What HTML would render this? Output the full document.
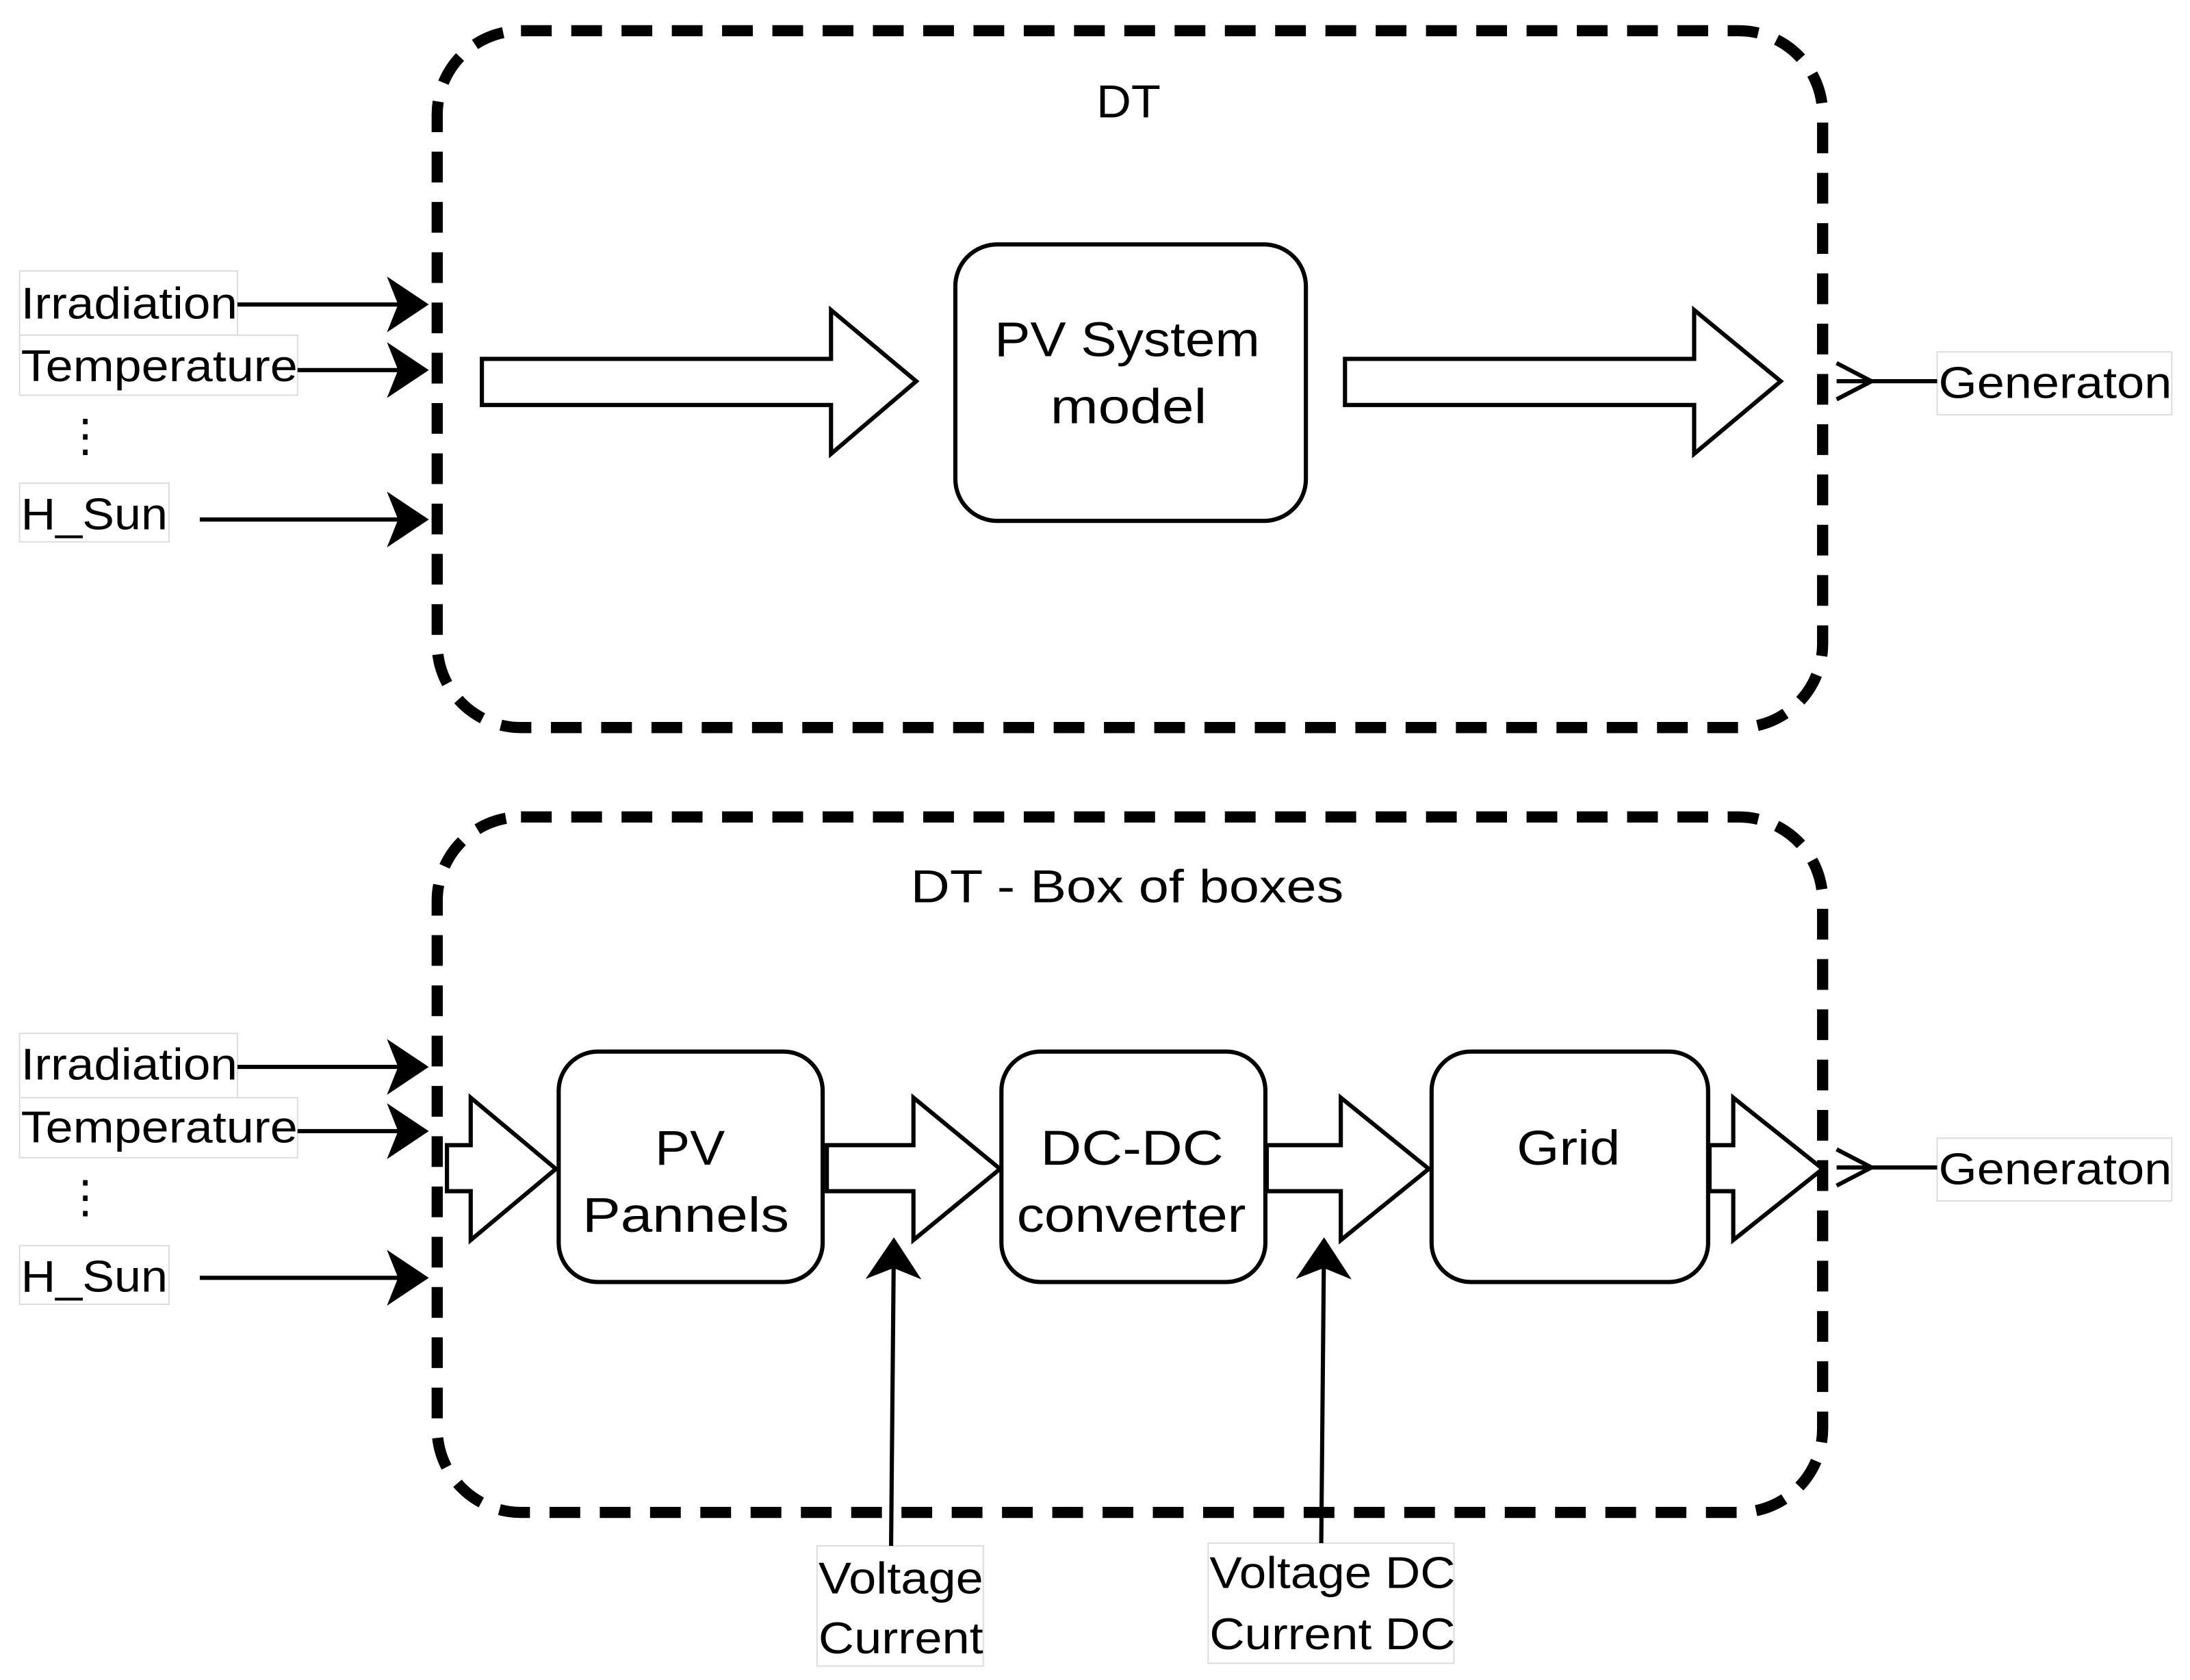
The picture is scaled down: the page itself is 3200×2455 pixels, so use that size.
<!DOCTYPE html>
<html><head><meta charset="utf-8"><style>html,body{margin:0;padding:0;background:#fff}svg{display:block}</style></head>
<body>
<svg width="3200" height="2455" viewBox="0 0 1568 1203" xmlns="http://www.w3.org/2000/svg" font-family="Liberation Sans, Arial, sans-serif">
<defs>
<marker id="ah" viewBox="0 0 30 40" refX="28" refY="20" markerWidth="30" markerHeight="40" markerUnits="userSpaceOnUse" orient="auto">
<path d="M0,0 L30,20 L0,40 L8,20 Z" fill="#000"/></marker>
</defs>
<rect width="1568" height="1203" fill="#fff"/>
<rect x="313" y="22" width="992" height="499" rx="60" fill="none" stroke="#000" stroke-width="8" stroke-dasharray="22 14"/>
<rect x="313" y="585" width="992" height="498" rx="60" fill="none" stroke="#000" stroke-width="8" stroke-dasharray="22 14"/>
<g font-size="33" fill="#000">
<text x="785" y="84" textLength="46" lengthAdjust="spacingAndGlyphs">DT</text>
<text x="652" y="646" textLength="310" lengthAdjust="spacingAndGlyphs">DT - Box of boxes</text>
</g>
<rect x="684" y="175" width="251" height="198" rx="30" fill="#fff" stroke="#000" stroke-width="3"/>
<g font-size="35"><text x="712" y="255" textLength="190" lengthAdjust="spacingAndGlyphs">PV System</text><text x="752" y="303" textLength="112" lengthAdjust="spacingAndGlyphs">model</text></g>
<path d="M345,257 H595 V222 L656,273 L595,325 V290 H345 Z" fill="#fff" stroke="#000" stroke-width="3"/>
<path d="M963,257 H1213 V222 L1275,273 L1213,325 V290 H963 Z" fill="#fff" stroke="#000" stroke-width="3"/>
<g stroke="#ddd" stroke-width="1" fill="#fff">
<rect x="14" y="194" width="156" height="46"/><rect x="14" y="240" width="199" height="43"/><rect x="14" y="346" width="107" height="42"/>
<rect x="1387" y="252" width="168" height="45"/>
<rect x="14" y="740" width="156" height="46"/><rect x="14" y="786" width="199" height="43"/><rect x="14" y="892" width="107" height="42"/>
<rect x="1387" y="815" width="168" height="45"/>
<rect x="585" y="1107" width="119" height="86"/><rect x="865" y="1105" width="176" height="86"/>
</g>
<g font-size="32" fill="#000" lengthAdjust="spacingAndGlyphs">
<text x="15" y="228" textLength="155" lengthAdjust="spacingAndGlyphs">Irradiation</text>
<text x="15" y="273" textLength="198" lengthAdjust="spacingAndGlyphs">Temperature</text>
<text x="45" y="323">⋮</text>
<text x="15" y="379" textLength="105" lengthAdjust="spacingAndGlyphs">H_Sun</text>
<text x="1388" y="285" textLength="167" lengthAdjust="spacingAndGlyphs">Generaton</text>
<text x="15" y="773" textLength="155" lengthAdjust="spacingAndGlyphs">Irradiation</text>
<text x="15" y="818" textLength="198" lengthAdjust="spacingAndGlyphs">Temperature</text>
<text x="45" y="868">⋮</text>
<text x="15" y="925" textLength="105" lengthAdjust="spacingAndGlyphs">H_Sun</text>
<text x="1388" y="848" textLength="167" lengthAdjust="spacingAndGlyphs">Generaton</text>
<text x="586" y="1141" textLength="118" lengthAdjust="spacingAndGlyphs">Voltage</text>
<text x="586" y="1184" textLength="118" lengthAdjust="spacingAndGlyphs">Current</text>
<text x="866" y="1137" textLength="176" lengthAdjust="spacingAndGlyphs">Voltage DC</text>
<text x="866" y="1181" textLength="176" lengthAdjust="spacingAndGlyphs">Current DC</text>
</g>
<g stroke="#000" stroke-width="3" fill="none">
<line x1="170" y1="218" x2="305" y2="218" marker-end="url(#ah)"/>
<line x1="213" y1="265" x2="305" y2="265" marker-end="url(#ah)"/>
<line x1="143" y1="372" x2="305" y2="372" marker-end="url(#ah)"/>
<line x1="170" y1="764" x2="305" y2="764" marker-end="url(#ah)"/>
<line x1="213" y1="810" x2="305" y2="810" marker-end="url(#ah)"/>
<line x1="143" y1="915" x2="305" y2="915" marker-end="url(#ah)"/>
<line x1="638" y1="1107" x2="640" y2="888" marker-end="url(#ah)"/>
<line x1="946" y1="1105" x2="948" y2="888" marker-end="url(#ah)"/>
<line x1="1315" y1="273" x2="1387" y2="273"/><path d="M1315,260 L1340,273 L1315,286"/>
<line x1="1315" y1="836" x2="1387" y2="836"/><path d="M1315,823 L1340,836 L1315,849"/>
</g>
<g stroke="#000" stroke-width="3" fill="#fff">
<path d="M320,820 H337 V786 L398,837 L337,888 V853 H320 Z"/>
<path d="M592,820 H654 V786 L716,837 L654,888 V853 H592 Z"/>
<path d="M907,820 H960 V786 L1023,837 L960,888 V853 H907 Z"/>
<path d="M1224,820 H1241 V786 L1305,837 L1241,888 V853 H1224 Z"/>
<rect x="400" y="753" width="189" height="165" rx="28"/>
<rect x="717" y="753" width="189" height="165" rx="28"/>
<rect x="1025" y="753" width="198" height="165" rx="28"/>
</g>
<g font-size="35">
<text x="469" y="834" textLength="50" lengthAdjust="spacingAndGlyphs">PV</text>
<text x="417" y="882" textLength="148" lengthAdjust="spacingAndGlyphs">Pannels</text>
<text x="745" y="834" textLength="131" lengthAdjust="spacingAndGlyphs">DC-DC</text>
<text x="728" y="882" textLength="164" lengthAdjust="spacingAndGlyphs">converter</text>
<text x="1086" y="834" textLength="74" lengthAdjust="spacingAndGlyphs">Grid</text>
</g>
</svg>
</body></html>
